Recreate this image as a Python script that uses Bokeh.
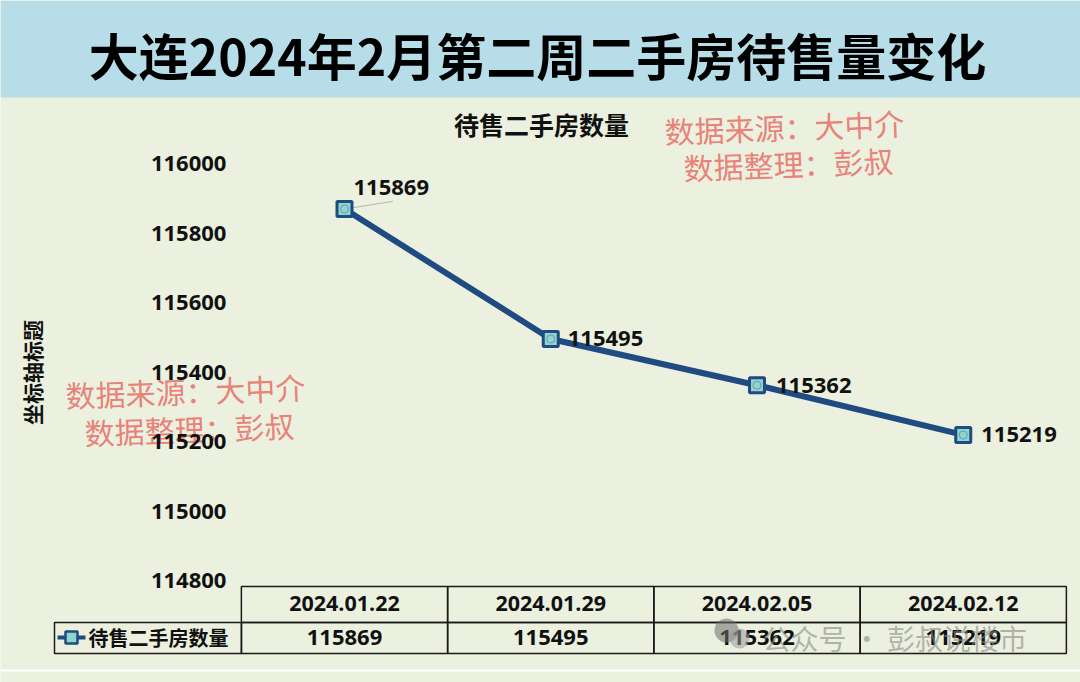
import math
from bokeh.plotting import figure
from bokeh.models import Range1d, FixedTicker, NumeralTickFormatter, LinearAxis
from bokeh.embed import file_html
from bokeh.resources import INLINE
from bokeh.core.properties import value

# ---------------- data ----------------
title_text = "大连2024年2月第二周二手房待售量变化"
chart_title = "待售二手房数量"
series_name = "待售二手房数量"
y_axis_title = "坐标轴标题"
dates = ["2024.01.22", "2024.01.29", "2024.02.05", "2024.02.12"]
values = [115869, 115495, 115362, 115219]
y_ticks = [114800, 115000, 115200, 115400, 115600, 115800, 116000]
source_lines = ["数据来源：大中介", "数据整理：彭叔"]
account_note = "公众号 · 彭叔说楼市"

# ---------------- styles / layout ----------------
BANNER = "#b7dde8"
BG = "#ebf1de"
LINE = "#1f4a82"
MARK_FILL = "#8fd4cf"
WM = "#e8736c"
TXT = "#111111"
CJK = "Noto Sans CJK SC"
NUM = "Open Sans"
W, H = 1080, 682
COL_PX = 206.25          # pixel width of one category column
FIRST_COL_PX = 344       # pixel centre of first category
Y_TOP_PX, Y_BOT_PX = 163, 580   # pixel rows of top / bottom tick

xs = list(range(len(dates)))

# main scales set up so that the chart area lines up with the data table
x_start = -FIRST_COL_PX / COL_PX
x_end = (W - FIRST_COL_PX) / COL_PX
per_px = (y_ticks[-1] - y_ticks[0]) / (Y_BOT_PX - Y_TOP_PX)
y_end = y_ticks[-1] + Y_TOP_PX * per_px
y_start = y_ticks[0] - (H - Y_BOT_PX) * per_px

p = figure(width=W, height=H, x_range=Range1d(x_start, x_end),
           y_range=Range1d(y_start, y_end), toolbar_location=None,
           output_backend="svg", min_border=0, x_axis_location=None,
           y_axis_location=None)
p.background_fill_color = BG
p.border_fill_color = BG
p.outline_line_color = None
p.grid.visible = False
p.extra_x_ranges = {"px": Range1d(0, W)}
p.extra_y_ranges = {"px": Range1d(H, 0)}
PXR = dict(x_range_name="px", y_range_name="px")

# ---------------- banner ----------------
p.quad(left=[0], right=[W], top=[0], bottom=[97], fill_color=BANNER,
       line_color=None, **PXR)
p.text(x=[537], y=[53], text=[title_text], text_align="center",
       text_baseline="middle", text_font=value(CJK), text_font_size="50px",
       text_font_style="bold", text_color="#000000", **PXR)

# ---------------- y axis ----------------
ya = LinearAxis(fixed_location=-0.5)
ya.ticker = FixedTicker(ticks=y_ticks)
ya.formatter = NumeralTickFormatter(format="0")
ya.axis_line_color = None
ya.major_tick_line_color = None
ya.minor_tick_line_color = None
ya.major_tick_out = 0
ya.major_tick_in = 0
ya.major_label_standoff = 15
ya.major_label_text_font = NUM
ya.major_label_text_font_style = "bold"
ya.major_label_text_font_size = "22px"
ya.major_label_text_color = TXT
p.add_layout(ya, "left")

p.text(x=[31], y=[372], text=[y_axis_title], angle=math.pi / 2,
       text_align="center", text_baseline="middle", text_font=value(CJK),
       text_font_style="bold", text_font_size="21px", text_color=TXT, **PXR)

# ---------------- chart title & watermarks ----------------
p.text(x=[541], y=[123], text=[chart_title], text_align="center",
       text_baseline="middle", text_font=value(CJK), text_font_style="bold",
       text_font_size="25px", text_color=TXT, **PXR)

p.text(x=[784, 788, 185, 189], y=[126, 163, 390, 428],
       text=source_lines * 2, angle=0.035, text_align="center",
       text_baseline="middle", text_font=value(CJK), text_font_size="30px",
       text_color=WM, text_alpha=0.9, **PXR)

# ---------------- series ----------------
p.line(xs, values, line_width=6, line_color=LINE)
p.segment(x0=[xs[0]], y0=[values[0]], x1=[xs[0] + 0.235], y1=[values[0] + 22],
          line_color="#b4b4b4", line_width=1)
p.scatter(xs, values, marker="square", size=15, fill_color=MARK_FILL,
          line_color=LINE, line_width=3)
p.scatter(xs, values, marker="circle", size=8, fill_color=None,
          line_color="#6f9aa6", line_width=1)

label_dx = [9, 17, 19, 18]
label_dy = [-22, 0, 0, 0]
p.text(x=xs, y=values, text=[str(v) for v in values], x_offset=label_dx,
       y_offset=label_dy, text_align="left", text_baseline="middle",
       text_font=value(NUM), text_font_style="bold", text_font_size="22px",
       text_color=TXT)

# ---------------- data table ----------------
n = len(xs)
p.segment(x0=[0], x1=[W], y0=[670], y1=[670], line_color="white",
          line_width=2, **PXR)
p.quad(left=[x - 0.5 for x in xs], right=[x + 0.5 for x in xs],
       top=[586] * n, bottom=[622] * n, fill_color=None,
       line_color="#1a1a1a", line_width=1.5, y_range_name="px")
p.quad(left=[x - 0.5 for x in xs], right=[x + 0.5 for x in xs],
       top=[622] * n, bottom=[653] * n, fill_color=None,
       line_color="#1a1a1a", line_width=1.5, y_range_name="px")
p.quad(left=[54], right=[241], top=[622], bottom=[653], fill_color=None,
       line_color="#1a1a1a", line_width=1.5, **PXR)
p.text(x=xs, y=[603] * n, text=dates, text_align="center",
       text_baseline="middle", text_font=value(NUM), text_font_style="bold",
       text_font_size="21.5px", text_color=TXT, y_range_name="px")
p.text(x=xs, y=[637] * n, text=[str(v) for v in values], text_align="center",
       text_baseline="middle", text_font=value(NUM), text_font_style="bold",
       text_font_size="22px", text_color=TXT, y_range_name="px")

# legend key
p.segment(x0=[57], x1=[85], y0=[637], y1=[637], line_color=LINE,
          line_width=4, **PXR)
p.scatter([71], [637], marker="square", size=12, fill_color=MARK_FILL,
          line_color=LINE, line_width=2.5, **PXR)
p.text(x=[88], y=[637], text=[series_name], text_align="left",
       text_baseline="middle", text_font=value(CJK), text_font_style="bold",
       text_font_size="20px", text_color=TXT, **PXR)

# account watermark
p.scatter([726], [630], marker="circle", size=24, fill_color="#6e6e6e",
          line_color=None, fill_alpha=0.55, **PXR)
p.scatter([739], [638], marker="circle", size=20, fill_color="#9a9a9a",
          line_color=None, fill_alpha=0.55, **PXR)
p.text(x=[762], y=[637], text=[account_note], text_align="left",
       text_baseline="middle", text_font=value(CJK), text_font_size="28px",
       text_color="#888888", text_alpha=0.6, **PXR)

open("out.html", "w").write(file_html(p, INLINE))
